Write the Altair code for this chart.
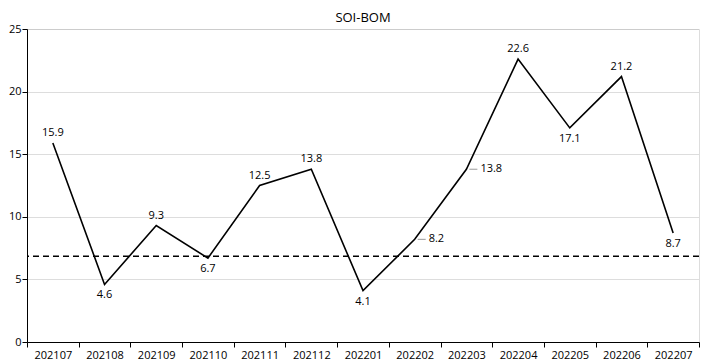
import altair as alt
import pandas as pd

months = ["202107", "202108", "202109", "202110", "202111", "202112", "202201",
          "202202", "202203", "202204", "202205", "202206", "202207"]
values = [15.9, 4.6, 9.3, 6.7, 12.5, 13.8, 4.1, 8.2, 13.8, 22.6, 17.1, 21.2, 8.7]
label_pos = ["above", "below", "above", "below", "above", "above", "below",
             "right", "right", "above", "below", "above", "below"]
threshold = [6.85]

df = pd.DataFrame({"month": months, "value": values, "pos": label_pos})
df["label"] = df["value"].map(lambda v: f"{v:.1f}")
ref = pd.DataFrame({"t": threshold})

FONT = "Open Sans"

x = alt.X("month:N", sort=months, title=None,
          scale=alt.Scale(type="band", paddingInner=0, paddingOuter=0),
          axis=alt.Axis(labelAngle=0, tickBand="extent", domainColor="#000",
                        tickColor="#000", labelColor="#000", labelFontSize=11,
                        labelFont=FONT, labelPadding=2, tickSize=5, grid=False))
y = alt.Y("value:Q", title=None,
          scale=alt.Scale(domain=[0, 25], nice=False),
          axis=alt.Axis(values=[0, 5, 10, 15, 20, 25], domainColor="#000",
                        tickColor="#000", labelColor="#000", labelFontSize=11,
                        labelFont=FONT, tickSize=5, labelPadding=1,
                        gridColor="#bbbbbb", gridDash=[1, 1], gridWidth=1))

base = alt.Chart(df)

line = base.mark_line(color="#000", strokeWidth=1.6).encode(x=x, y=y)

above = base.transform_filter(alt.datum.pos == "above").mark_text(
    dy=-10, fontSize=11, font=FONT, color="#000").encode(x=x, y="value:Q", text="label:N")
below = base.transform_filter(alt.datum.pos == "below").mark_text(
    dy=11, fontSize=11, font=FONT, color="#000").encode(x=x, y="value:Q", text="label:N")
right = base.transform_filter(alt.datum.pos == "right").mark_text(
    dx=14, align="left", fontSize=11, font=FONT, color="#000").encode(x=x, y="value:Q", text="label:N")
leader = base.transform_filter(alt.datum.pos == "right").mark_rule(
    color="#999", strokeWidth=1, xOffset=3, x2Offset=11).encode(
    x=x, x2=alt.X2("month:N"), y="value:Q")

rule = alt.Chart(ref).mark_rule(color="#000", strokeDash=[6, 4], strokeWidth=1.5).encode(
    y=alt.Y("t:Q"))

chart = alt.layer(line, rule, leader, above, below, right).properties(
    width=672, height=313,
    title=alt.TitleParams("SOI-BOM", fontSize=13, font=FONT, fontWeight="normal",
                          color="#000", offset=-2),
    padding={"left": 0, "top": 4, "right": 0, "bottom": 0},
).configure_view(stroke=None).configure(background="white")

chart.save("out.html", embed_options={"renderer": "svg", "actions": False})
